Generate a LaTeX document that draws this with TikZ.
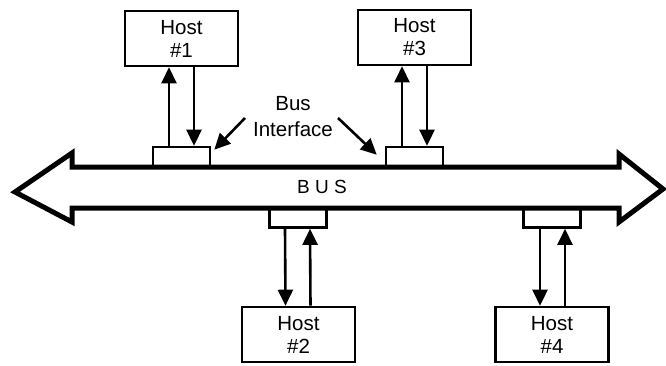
\documentclass[tikz,border=0pt]{standalone}
\usepackage{fontspec}
\setmainfont{Liberation Sans}
\usetikzlibrary{arrows.meta}
\tikzset{
  bus body/.style={line width=5pt,line join=miter},
  bus host/.style={draw,line width=2.6pt,minimum width=113pt,minimum height=55pt,
    inner sep=0pt,align=center,font=\fontsize{20.5}{23}\selectfont},
  bus port/.style={draw,line width=2.6pt,minimum width=57pt,minimum height=20pt,inner sep=0pt},
  bus link/.style={line width=2.6pt,-{Triangle[length=16pt,width=15pt]}},
  bus note/.style={align=center,font=\fontsize{20.5}{26}\selectfont}
}
\begin{document}
\begin{tikzpicture}[x=1pt,y=-1pt]
  \useasboundingbox (0,0) rectangle (666,365);
  \draw[bus body] (15,192)--(72,153)--(72,167)--(619,167)--(619,154)--(663,189)
    --(619,222)--(619,208)--(72,208)--(72,222)--cycle;
  \node[font=\fontsize{19}{22}\selectfont] (bus) at (322,187) {B U S};
  \node[bus port] (if1) at (181.5,157) {};
  \node[bus port] (if3) at (414.5,157) {};
  \node[bus port] (if2) at (298,217.5) {};
  \node[bus port] (if4) at (552,217.5) {};
  \node[bus host] (h1) at (181.5,38.5) {Host\\\#1};
  \node[bus host] (h3) at (414.5,37.5) {Host\\\#3};
  \node[bus host] (h2) at (298.5,334.5) {Host\\\#2};
  \node[bus host] (h4) at (552,334.5) {Host\\\#4};
  \draw[bus link] ([xshift=-12.5pt]if1.north) -- ([xshift=-12.5pt]h1.south);
  \draw[bus link] ([xshift=12.5pt]h1.south) -- ([xshift=12.5pt]if1.north);
  \draw[bus link] ([xshift=-12.5pt]if3.north) -- ([xshift=-12.5pt]h3.south);
  \draw[bus link] ([xshift=12.5pt]h3.south) -- ([xshift=12.5pt]if3.north);
  \draw[bus link] ([xshift=-13pt]if2.south) -- ([xshift=-13pt]h2.north);
  \draw[bus link] ([xshift=12pt]h2.north) -- ([xshift=12pt]if2.south);
  \draw[bus link] ([xshift=-12pt]if4.south) -- ([xshift=-12pt]h4.north);
  \draw[bus link] ([xshift=13pt]h4.north) -- ([xshift=13pt]if4.south);
  \node[bus note] (note) at (293,117) {Bus\\Interface};
  \coordinate (p1) at (245,118);
  \coordinate (p3) at (338,118);
  \draw[bus link] (p1) -- ([shift={(3pt,-4pt)}]if1.north east);
  \draw[bus link] (p3) -- ([shift={(-8pt,-9pt)}]if3.north west);
\end{tikzpicture}
\end{document}
